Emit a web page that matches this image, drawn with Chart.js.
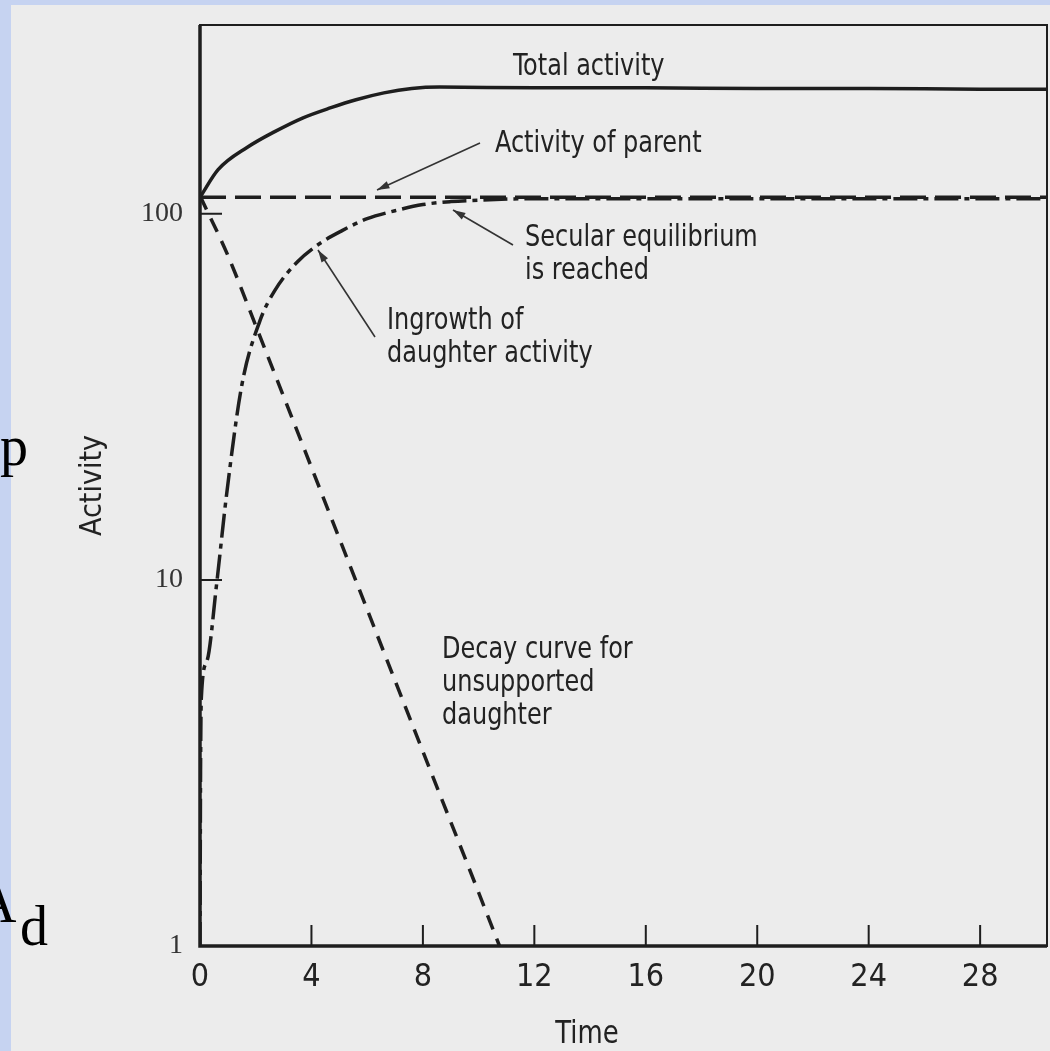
<!DOCTYPE html>
<html>
<head>
<meta charset="utf-8">
<script src="https://cdn.jsdelivr.net/npm/chart.js@4.4.1/dist/chart.umd.min.js"></script>
<style>
  html, body { margin: 0; padding: 0; background: #ececec; }
  #wrap { width: 1050px; height: 1051px; position: relative; }
</style>
</head>
<body>
<div id="wrap"><canvas id="chart"></canvas></div>
<script>
// values (time units, activity on log scale)
const xTicks = [0, 4, 8, 12, 16, 20, 24, 28];
const yTicks = [1, 10, 100];

const totalT = [0, 0.65, 1.7, 2.7, 3.7, 4.7, 5.6, 6.6, 7.6, 8.6, 12, 16, 20, 24, 28, 30.4];
const totalA = [111, 132, 152, 168, 183, 195, 205, 214, 220, 222, 221, 221, 220, 220, 219, 219];

const parentT = [0, 30.4];
const parentA = [111, 111];

const ingrowthT = [0, 0.02, 0.05, 0.25, 0.6, 0.95, 1.5, 2.15, 2.7, 3.5, 4.3, 5.1, 6, 7, 8, 9, 10, 12, 16, 20, 24, 28, 30.4];
const ingrowthA = [1, 3, 4.8, 6, 9.8, 17, 34, 51, 62, 74, 83, 90, 97, 102, 106, 108, 109, 110, 110, 110, 110, 110, 110];

const decayT = [0, 1, 2, 4, 6, 8, 10, 10.75];
const decayA = [112, 77, 49.5, 20.3, 8.3, 3.4, 1.4, 1];

const pts = (xs, ys) => xs.map((x, i) => ({ x: x, y: ys[i] }));

const NARROW = "'Liberation Sans Narrow', 'DejaVu Sans Condensed', sans-serif";
const INK = '#1e1e1e';
const TEXT = '#222';

const labels = [
  { lines: ['Total activity'], x: 513, y: 75 },
  { lines: ['Activity of parent'], x: 495, y: 152 },
  { lines: ['Secular equilibrium', 'is reached'], x: 525, y: 246 },
  { lines: ['Ingrowth of', 'daughter activity'], x: 387, y: 329 },
  { lines: ['Decay curve for', 'unsupported', 'daughter'], x: 442, y: 658 }
];
const arrows = [
  [480, 143, 377, 190],
  [513, 245, 453, 210],
  [375, 337, 318, 250]
];

// condensed text: squeeze horizontally like the printed figure
function narrowText(c, t, x, y, sx) {
  c.save();
  c.translate(x, y);
  c.scale(sx, 1);
  c.fillText(t, 0, 0);
  c.restore();
}

const decor = {
  id: 'decor',
  beforeDraw(chart) {
    const c = chart.ctx;
    c.save();
    c.fillStyle = '#ececec';
    c.fillRect(0, 0, chart.width, chart.height);
    c.fillStyle = '#c6d3f1';
    c.fillRect(0, 0, chart.width, 5);
    c.fillRect(0, 0, 11, chart.height);
    // slide text behind the figure
    c.fillStyle = '#000';
    c.font = "56px 'Liberation Serif', serif";
    c.textBaseline = 'alphabetic';
    c.fillText('p', 0, 465);
    c.fillText('A', -24, 922);
    c.fillText('d', 20, 945);
    c.restore();
  },
  afterDraw(chart) {
    const c = chart.ctx;
    const a = chart.chartArea;
    const xs = chart.scales.x, ys = chart.scales.y;
    c.save();
    // frame
    c.strokeStyle = INK;
    c.lineWidth = 2;
    c.strokeRect(a.left, a.top, a.right - a.left, a.bottom - a.top);
    c.lineWidth = 3.5;
    c.beginPath();
    c.moveTo(a.left, a.top);
    c.lineTo(a.left, a.bottom);
    c.lineTo(a.right, a.bottom);
    c.stroke();
    // inward ticks
    c.lineWidth = 2;
    c.beginPath();
    xTicks.slice(1).forEach(v => {
      const px = xs.getPixelForValue(v);
      c.moveTo(px, a.bottom);
      c.lineTo(px, a.bottom - 21);
    });
    yTicks.slice(1).forEach(v => {
      const py = ys.getPixelForValue(v);
      c.moveTo(a.left, py);
      c.lineTo(a.left + 22, py);
    });
    c.stroke();
    // annotation text
    c.fillStyle = TEXT;
    c.font = '31px ' + NARROW;
    c.textAlign = 'left';
    c.textBaseline = 'alphabetic';
    labels.forEach(l => {
      l.lines.forEach((t, i) => narrowText(c, t, l.x, l.y + i * 33, 0.86));
    });
    c.font = '32px ' + NARROW;
    c.textAlign = 'center';
    narrowText(c, 'Time', 587, 1043, 0.9);
    // arrows
    c.strokeStyle = '#333';
    c.fillStyle = '#333';
    c.lineWidth = 1.6;
    arrows.forEach(([x0, y0, x1, y1]) => {
      c.beginPath();
      c.moveTo(x0, y0);
      c.lineTo(x1, y1);
      c.stroke();
      const ang = Math.atan2(y1 - y0, x1 - x0);
      c.beginPath();
      c.moveTo(x1, y1);
      c.lineTo(x1 - 13 * Math.cos(ang - 0.3), y1 - 13 * Math.sin(ang - 0.3));
      c.lineTo(x1 - 13 * Math.cos(ang + 0.3), y1 - 13 * Math.sin(ang + 0.3));
      c.closePath();
      c.fill();
    });
    c.restore();
  }
};

const line = (data, dash) => ({
  data: data,
  borderColor: INK,
  borderWidth: 3.5,
  borderDash: dash,
  pointRadius: 0,
  fill: false,
  cubicInterpolationMode: 'monotone'
});

new Chart(document.getElementById('chart'), {
  type: 'line',
  data: {
    datasets: [
      line(pts(totalT, totalA), []),
      line(pts(parentT, parentA), [26, 9]),
      line(pts(ingrowthT, ingrowthA), [24, 6, 5, 6]),
      line(pts(decayT, decayA), [15, 10])
    ]
  },
  options: {
    responsive: true,
    maintainAspectRatio: false,
    animation: false,
    layout: { padding: { top: 25, right: 3, left: 0, bottom: 0 } },
    plugins: { legend: { display: false }, tooltip: { enabled: false } },
    scales: {
      x: {
        type: 'linear',
        min: 0,
        max: 30.4,
        afterBuildTicks: s => { s.ticks = xTicks.map(v => ({ value: v })); },
        afterFit: s => { s.height = 105; s.paddingLeft = 0; s.paddingRight = 0; },
        grid: { display: false, drawTicks: false },
        border: { display: false },
        ticks: { padding: 12, color: TEXT, font: { family: NARROW, size: 32 }, maxRotation: 0, autoSkip: false }
      },
      y: {
        type: 'logarithmic',
        min: 1,
        max: 328,
        afterBuildTicks: s => { s.ticks = yTicks.map(v => ({ value: v })); },
        afterFit: s => { s.width = 200; s.paddingTop = 0; s.paddingBottom = 0; },
        grid: { display: false, drawTicks: false },
        border: { display: false },
        ticks: { padding: 17, color: '#333', font: { family: "'Liberation Serif', serif", size: 28 }, callback: v => String(v) },
        title: { display: true, text: 'Activity', color: TEXT, font: { family: NARROW, size: 30 }, padding: { top: 75 } }
      }
    }
  },
  plugins: [decor]
});
</script>
</body>
</html>
